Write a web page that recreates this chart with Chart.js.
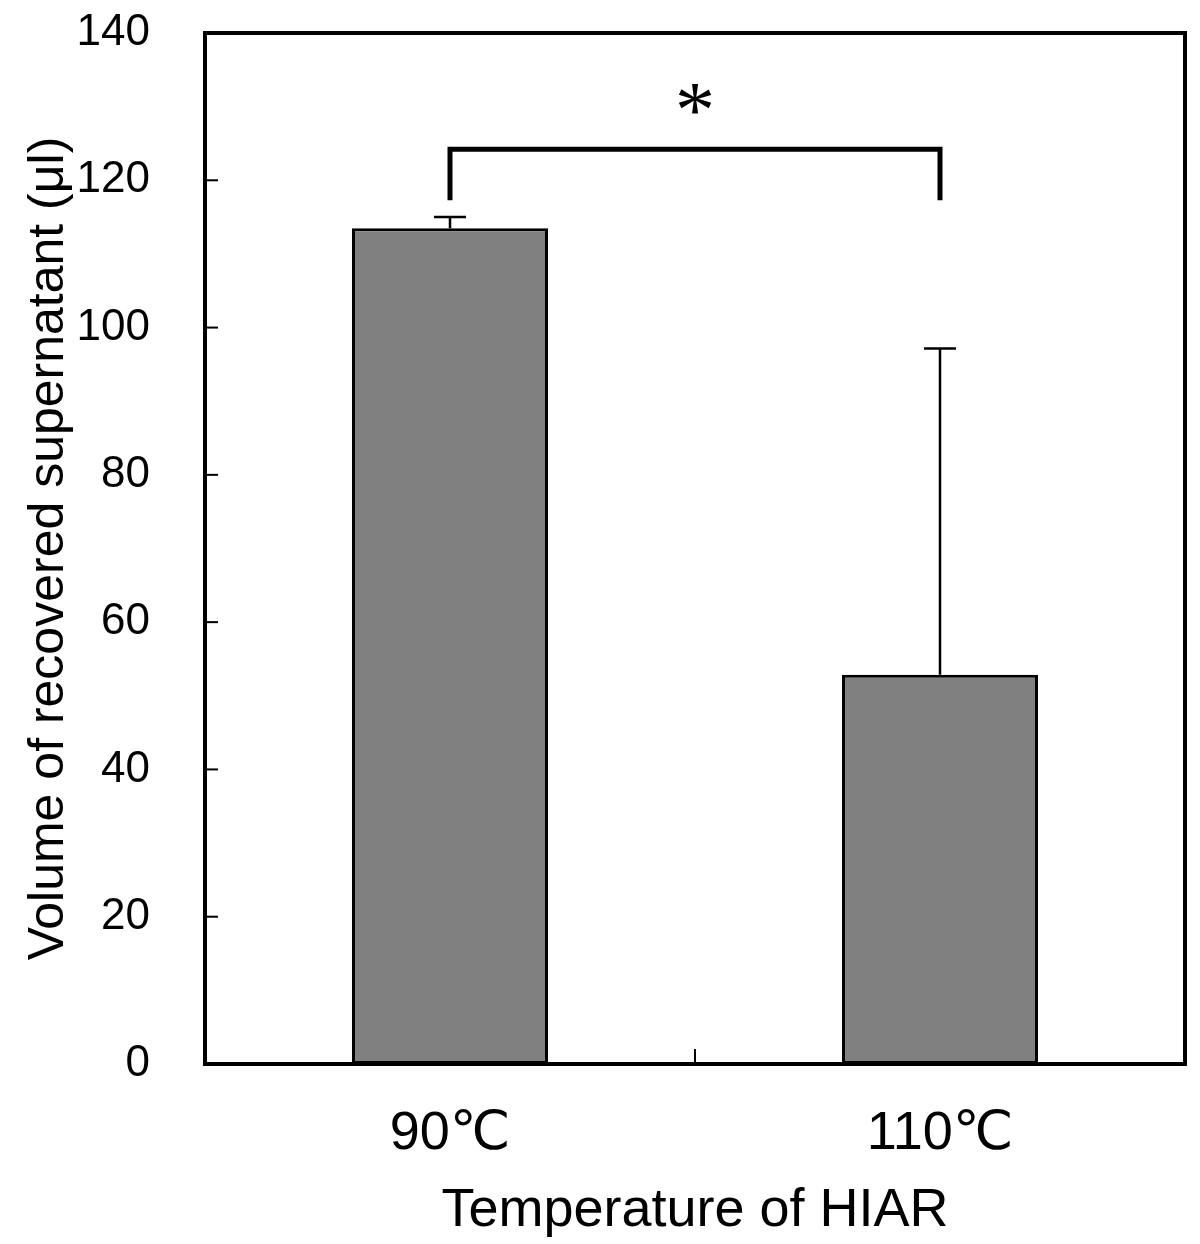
<!DOCTYPE html>
<html>
<head>
<meta charset="utf-8">
<script src="https://cdn.jsdelivr.net/npm/chart.js@4.4.0/dist/chart.umd.min.js"></script>
<style>
  html, body { margin: 0; padding: 0; background: #fff; }
  #wrap { width: 1200px; height: 1244px; }
</style>
</head>
<body>
<div id="wrap"><canvas id="volume-chart" width="1200" height="1244"></canvas></div>
<script>
const categories = ['90\u2103', '110\u2103'];
const meanVolume = [113.5, 52.85];
const sdVolume = [1.5, 44.3];
const yTicks = [0, 20, 40, 60, 80, 100, 120, 140];
// significance bracket between the two groups
const bracketTop = 124.2;
const bracketLegEnd = 117.3;
const starLevel = 131.0;
const starText = '*';

const ctx = document.getElementById('volume-chart').getContext('2d');

const extrasPlugin = {
  id: 'extras',
  afterDatasetsDraw(chart) {
    const c = chart.ctx;
    const x = chart.scales.x;
    const y = chart.scales.y;
    c.save();
    c.strokeStyle = '#000';
    // error bars (upper only)
    c.lineWidth = 2.5;
    meanVolume.forEach((m, i) => {
      const px = x.getPixelForValue(i);
      const top = y.getPixelForValue(m + sdVolume[i]);
      c.beginPath();
      c.moveTo(px, y.getPixelForValue(m));
      c.lineTo(px, top);
      c.moveTo(px - 16, top);
      c.lineTo(px + 16, top);
      c.stroke();
    });
    // bracket
    const x0 = x.getPixelForValue(0);
    const x1 = x.getPixelForValue(1);
    c.lineWidth = 5;
    c.lineJoin = 'miter';
    c.beginPath();
    c.moveTo(x0, y.getPixelForValue(bracketLegEnd));
    c.lineTo(x0, y.getPixelForValue(bracketTop));
    c.lineTo(x1, y.getPixelForValue(bracketTop));
    c.lineTo(x1, y.getPixelForValue(bracketLegEnd));
    c.stroke();
    // asterisk
    c.fillStyle = '#000';
    c.font = '80px "Liberation Serif", serif';
    c.textAlign = 'center';
    c.textBaseline = 'alphabetic';
    const mt = c.measureText(starText);
    const sy = y.getPixelForValue(starLevel);
    c.fillText(starText, (x0 + x1) / 2, sy + (mt.actualBoundingBoxAscent - mt.actualBoundingBoxDescent) / 2);
    c.restore();
  },
  afterDraw(chart) {
    const c = chart.ctx;
    const a = chart.chartArea;
    const y = chart.scales.y;
    c.save();
    c.strokeStyle = '#000';
    // inner y ticks
    c.lineWidth = 2;
    yTicks.forEach(v => {
      const py = y.getPixelForValue(v);
      c.beginPath();
      c.moveTo(a.left, py);
      c.lineTo(a.left + 13, py);
      c.stroke();
    });
    // middle x tick between categories
    const mx = (a.left + a.right) / 2;
    c.beginPath();
    c.moveTo(mx, a.bottom);
    c.lineTo(mx, a.bottom - 15);
    c.stroke();
    // frame
    c.lineWidth = 4;
    c.strokeRect(a.left, a.top, a.right - a.left, a.bottom - a.top);
    c.restore();
  }
};

new Chart(ctx, {
  type: 'bar',
  data: {
    labels: categories,
    datasets: [{
      data: meanVolume,
      backgroundColor: '#808080',
      borderColor: '#000',
      borderWidth: 3,
      borderSkipped: false,
      barPercentage: 0.4,
      categoryPercentage: 1.0
    }]
  },
  options: {
    responsive: false,
    animation: false,
    layout: { padding: { left: 0, top: 33, right: 15, bottom: 0 } },
    plugins: { legend: { display: false }, tooltip: { enabled: false } },
    scales: {
      x: {
        grid: { display: false, drawTicks: false },
        border: { display: false },
        ticks: {
          color: '#000',
          padding: 38,
          font: { family: '"Liberation Sans", Arial, "DejaVu Sans"', size: 54 }
        },
        title: {
          display: true,
          text: 'Temperature of HIAR',
          color: '#000',
          padding: 0,
          font: { family: '"Liberation Sans", Arial', size: 54 }
        },
        afterFit(scale) {
          scale.height = 180;
          scale.paddingLeft = 0;
          scale.paddingRight = 0;
        }
      },
      y: {
        min: 0,
        max: 140,
        grid: { display: false, drawTicks: false },
        border: { display: false },
        ticks: {
          stepSize: 20,
          color: '#000',
          padding: 55,
          font: { family: '"Liberation Sans", Arial', size: 44 }
        },
        title: {
          display: true,
          text: 'Volume of recovered supernatant (\u03bcl)',
          color: '#000',
          padding: { top: 19, bottom: 0 },
          font: { family: '"Liberation Sans", Arial', size: 50 }
        },
        afterFit(scale) {
          scale.width = 205;
          scale.paddingTop = 0;
          scale.paddingBottom = 0;
        }
      }
    }
  },
  plugins: [extrasPlugin]
});
</script>
</body>
</html>
